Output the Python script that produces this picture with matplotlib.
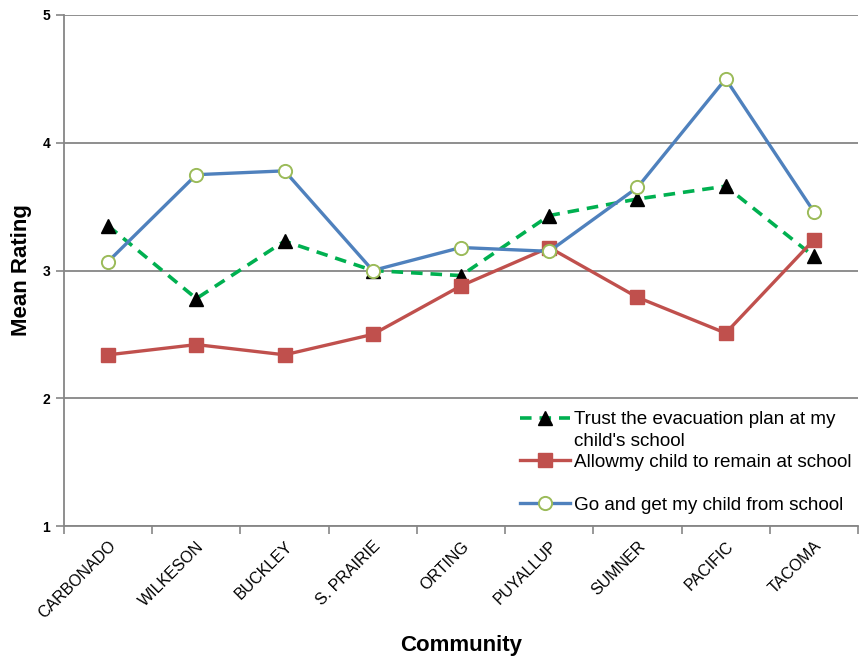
import matplotlib
matplotlib.use("Agg")
import matplotlib.pyplot as plt
from matplotlib.lines import Line2D

plt.rcParams['font.family'] = ['Liberation Sans', 'DejaVu Sans']

communities = ["CARBONADO", "WILKESON", "BUCKLEY", "S. PRAIRIE", "ORTING",
               "PUYALLUP", "SUMNER", "PACIFIC", "TACOMA"]
trust_plan = [3.35, 2.78, 3.23, 3.00, 2.96, 3.43, 3.56, 3.66, 3.11]
allow_remain = [2.34, 2.42, 2.34, 2.50, 2.88, 3.18, 2.79, 2.51, 3.24]
go_get = [3.07, 3.75, 3.78, 3.00, 3.18, 3.15, 3.65, 4.50, 3.46]
y_ticks = [1, 2, 3, 4, 5]

fig = plt.figure(figsize=(8.62, 6.65), dpi=100)
ax = fig.add_axes([64 / 862, 1 - 526 / 665, 794 / 862, 511 / 665])

x = list(range(len(communities)))
grid_c = "#868686"

trust_style = dict(color="#00B050", lw=2.6, ls=(0, (3.2, 2.2)),
                   marker="^", ms=9.5, mfc="black", mec="black")
remain_style = dict(color="#C0504D", lw=2.4, marker="s", ms=10,
                    mfc="#C0504D", mec="#C0504D")
get_style = dict(color="#4F81BD", lw=2.4, marker="o", ms=9.5,
                 mfc="white", mec="#9BBB59", mew=1.4)

ax.plot(x, trust_plan, zorder=3, **trust_style)
ax.plot(x, allow_remain, zorder=4, **remain_style)
ax.plot(x, go_get, zorder=5, **get_style)

ax.set_xlim(-0.5, len(communities) - 0.5)
ax.set_ylim(1, 5)
ax.set_yticks(y_ticks)
ax.set_yticklabels([str(v) for v in y_ticks], fontsize=10, fontweight="bold")
ax.yaxis.grid(True, color=grid_c, lw=1.3)
ax.set_axisbelow(True)
ax.tick_params(axis="y", length=6, width=1.2, color=grid_c, pad=4)

ax.set_xticks(x)
ax.set_xticklabels(communities, rotation=45, ha="right", rotation_mode="anchor",
                   fontsize=11.5)
ax.set_xticks([i - 0.5 for i in range(len(communities) + 1)], minor=True)
ax.tick_params(axis="x", which="major", length=0, pad=9)
ax.tick_params(axis="x", which="minor", length=6, width=1.2, color=grid_c)

for side in ("top", "right"):
    ax.spines[side].set_visible(False)
for side in ("left", "bottom"):
    ax.spines[side].set_color(grid_c)
    ax.spines[side].set_linewidth(1.3)

ax.set_ylabel("Mean Rating", fontsize=16, fontweight="bold",
              va="center", ha="center")
ax.yaxis.set_label_coords(-42 / 794, 0.5)
ax.set_xlabel("Community", fontsize=16, fontweight="bold",
              va="center", ha="center")
ax.xaxis.set_label_coords(0.5, -(645 - 526) / 511)

handles = [
    Line2D([], [], **trust_style),
    Line2D([], [], color="none"),
    Line2D([], [], **remain_style),
    Line2D([], [], color="none"),
    Line2D([], [], **get_style),
]
labels = ["Trust the evacuation plan at my", "child's school",
          "Allowmy child to remain at school", "", "Go and get my child from school"]
leg = ax.legend(handles, labels, loc="upper left", bbox_to_anchor=(520 / 862, 1 - 411 / 665),
                bbox_transform=fig.transFigure, frameon=False, fontsize=13.6,
                handlelength=2.65, handletextpad=0.22, labelspacing=0.22,
                borderpad=0, borderaxespad=0)

fig.savefig("out.png", dpi=100)
